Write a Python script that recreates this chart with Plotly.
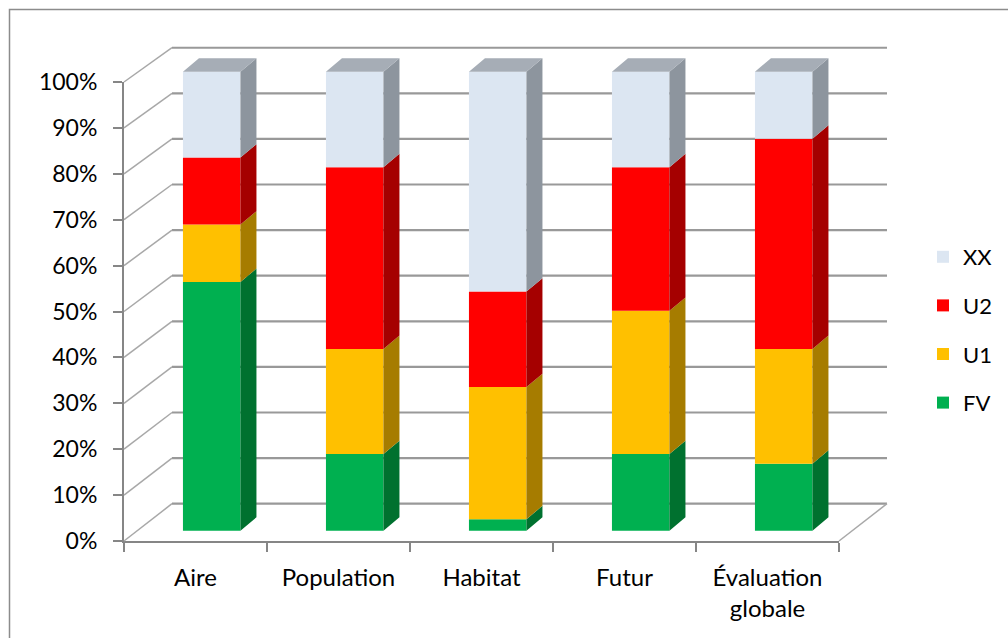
import numpy as np
import plotly.graph_objects as go

# ---------------- data (in %) ----------------
categories = ["Aire", "Population", "Habitat", "Futur", "Évaluation<br>globale"]
series_names = ["FV", "U1", "U2", "XX"]
FV = [54.2, 16.7, 2.5, 16.7, 14.6]
U1 = [12.5, 22.9, 28.8, 31.2, 25.0]
U2 = [14.6, 39.6, 20.8, 31.3, 45.8]
XX = [18.7, 20.8, 47.9, 20.8, 14.6]
y_ticks = list(range(0, 101, 10))
y_tick_labels = [f"{v}%" for v in y_ticks]

# ---------------- styles ----------------
front_colors = {"FV": "#00B050", "U1": "#FFC000", "U2": "#FF0000", "XX": "#DCE6F2"}
side_colors = {"FV": "#00712F", "U1": "#A67C00", "U2": "#A50000", "XX": "#8D959E"}
top_color = "#A6ADB6"
axis_color = "#868686"
grid_color = "#999999"
diag_color = "#A8A8A8"
FONT = "Lato, 'Open Sans', sans-serif"

W, H = 1008, 638


def dom_x(a, b):
    return [a / W, b / W]


def dom_y(top, bottom):
    return [1 - bottom / H, 1 - top / H]


# pixel geometry of the pseudo-3D projection
UX = 143.0          # px per category
UY = 4.59           # px per percent
AX_L, AX_R, AX_T, AX_B = 124, 839, 82, 541   # front axis frame
SC_L, SC_R, SC_T, SC_B = 112, 892, 36, 548   # scene (walls + bars)
WALL_DX, WALL_DY, WALL_SCALE = 48 / UX, 37.3 / UY, 0.9934
BAR_DX0, BAR_DY0 = 16.2 / UX, 10.3 / UY
BAR_DEPX, BAR_DEPY = 16.0 / UX, 13.4 / UY
BAR_W = 57.5 / UX

scene_xr = [-0.5 - (AX_L - SC_L) / UX, -0.5 + (SC_R - AX_L) / UX]
scene_yr = [-(SC_B - AX_B) / UY, (AX_B - SC_T) / UY]

fig = go.Figure()

# invisible trace so the front frame axes exist
fig.add_trace(go.Scatter(x=categories, y=[None] * len(categories), xaxis="x", yaxis="y",
                         showlegend=False, hoverinfo="skip", mode="lines"))

# ---------------- walls (subplot 2) ----------------
gx, gy, dx_, dy_ = [], [], [], []
for v in y_ticks:
    yb = v * WALL_SCALE + WALL_DY
    gx += [-0.5 + WALL_DX, 4.5 + WALL_DX, None]
    gy += [yb, yb, None]
    dx_ += [-0.5, -0.5 + WALL_DX, None]
    dy_ += [v, yb, None]
# floor right edge
dx_ += [4.5, 4.5 + WALL_DX, None]
dy_ += [0, WALL_DY, None]
fig.add_trace(go.Scatter(x=gx, y=gy, mode="lines", line=dict(color=grid_color, width=2.2),
                         xaxis="x2", yaxis="y2", showlegend=False, hoverinfo="skip"))
fig.add_trace(go.Scatter(x=dx_, y=dy_, mode="lines", line=dict(color=diag_color, width=1.5),
                         xaxis="x2", yaxis="y2", showlegend=False, hoverinfo="skip"))

# ---------------- bars (subplot 3) ----------------
data = {"FV": FV, "U1": U1, "U2": U2, "XX": XX}
idx = np.arange(len(categories))
cum = np.zeros(len(categories))
for k, name in enumerate(series_names):
    vals = np.array(data[name], dtype=float)
    base = cum + BAR_DY0
    fig.add_trace(go.Bar(x=idx + BAR_DX0, y=vals, base=base, width=BAR_W, name=name,
                         marker=dict(color=front_colors[name], line=dict(width=0)),
                         xaxis="x3", yaxis="y3", legendgroup=name,
                         legendrank=len(series_names) - k))
    sx, sy = [], []
    for i in idx:
        xr = i + BAR_DX0 + BAR_W / 2
        b = base[i]
        t = base[i] + vals[i]
        sx += [xr, xr + BAR_DEPX, xr + BAR_DEPX, xr, xr, None]
        sy += [b, b + BAR_DEPY, t + BAR_DEPY, t, b, None]
    fig.add_trace(go.Scatter(x=sx, y=sy, mode="lines", fill="toself", fillcolor=side_colors[name],
                             line=dict(width=0, color=side_colors[name]),
                             xaxis="x3", yaxis="y3", showlegend=False, hoverinfo="skip"))
    cum = cum + vals

tx, ty = [], []
for i in idx:
    xl = i + BAR_DX0 - BAR_W / 2
    xr = i + BAR_DX0 + BAR_W / 2
    t = BAR_DY0 + cum[i]
    tx += [xl, xl + BAR_DEPX, xr + BAR_DEPX, xr, xl, None]
    ty += [t, t + BAR_DEPY, t + BAR_DEPY, t, t, None]
fig.add_trace(go.Scatter(x=tx, y=ty, mode="lines", fill="toself", fillcolor=top_color,
                         line=dict(width=0, color=top_color),
                         xaxis="x3", yaxis="y3", showlegend=False, hoverinfo="skip"))

hidden = dict(visible=False, showgrid=False, zeroline=False, fixedrange=True)

fig.update_layout(
    width=W, height=H, autosize=False,
    margin=dict(l=0, r=0, t=0, b=0),
    paper_bgcolor="white", plot_bgcolor="rgba(0,0,0,0)",
    font=dict(family=FONT, size=22, color="#000000"),
    barmode="overlay",
    xaxis=dict(domain=dom_x(AX_L, AX_R), type="category", categoryorder="array",
               categoryarray=categories, range=[-0.5, 4.5], tickson="boundaries",
               ticks="outside", ticklen=9, tickwidth=2, tickcolor=axis_color,
               showline=True, linecolor=axis_color, linewidth=2, showgrid=False,
               zeroline=False, anchor="y", fixedrange=True, automargin=False,
               tickfont=dict(family=FONT, size=24, color="#000000"), ticklabelstandoff=14),
    yaxis=dict(domain=dom_y(AX_T, AX_B), range=[0, 100], tickmode="array",
               tickvals=y_ticks, ticktext=y_tick_labels,
               ticks="outside", ticklen=9, tickwidth=2, tickcolor=axis_color,
               showline=True, linecolor=axis_color, linewidth=2, showgrid=False,
               zeroline=False, anchor="x", fixedrange=True, automargin=False,
               tickfont=dict(family=FONT, size=23, color="#000000"), ticklabelstandoff=11),
    xaxis2=dict(domain=dom_x(SC_L, SC_R), range=scene_xr, anchor="y2", **hidden),
    yaxis2=dict(domain=dom_y(SC_T, SC_B), range=scene_yr, anchor="x2", **hidden),
    xaxis3=dict(domain=dom_x(SC_L, SC_R), range=scene_xr, anchor="y3", **hidden),
    yaxis3=dict(domain=dom_y(SC_T, SC_B), range=scene_yr, anchor="x3", **hidden),
    legend=dict(x=923 / W, y=1 - 236 / H, xanchor="left", yanchor="top",
                traceorder="grouped", tracegroupgap=17,
                font=dict(family=FONT, size=22, color="#000000"),
                bgcolor="rgba(0,0,0,0)"),
    shapes=[dict(type="rect", xref="paper", yref="paper", x0=9.5 / W, x1=1.05,
                 y0=-0.05, y1=1 - 9.5 / H, line=dict(color="#8C8C8C", width=1.5),
                 fillcolor="rgba(0,0,0,0)", layer="below")],
)

fig.write_html("out.html")
